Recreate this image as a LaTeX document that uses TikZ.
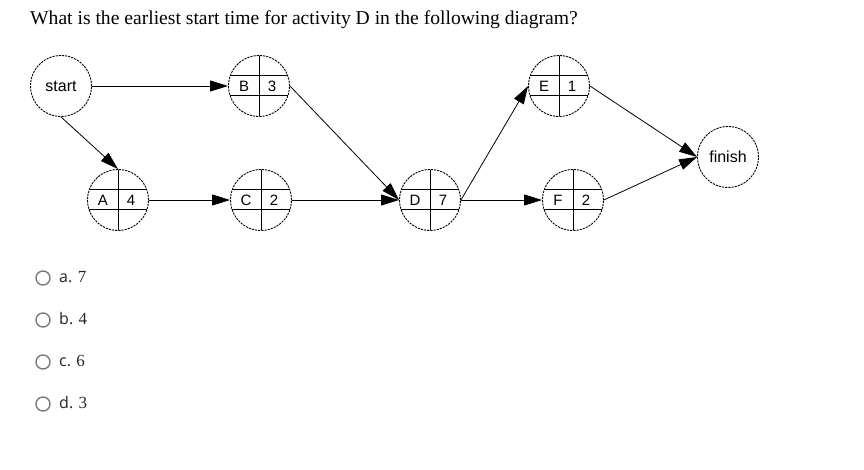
\documentclass[tikz,border=0pt]{standalone}
\usepackage{fontspec}
\setmainfont{Liberation Serif}
\newfontfamily\netfont{Liberation Sans}
\newfontfamily\optfont{Open Sans}
\usetikzlibrary{arrows.meta,calc}
\definecolor{radiogray}{HTML}{7A7A7A}
\tikzset{
    event/.style={circle, draw, line width=.9pt, dash pattern=on 2.2pt off 1pt,
        minimum size=61pt, inner sep=0pt, font=\netfont\fontsize{15}{15}\selectfont},
    activity/.style={event, path picture={
        % cross lines inside the activity circle
        \draw[line width=1pt, solid] (path picture bounding box.north) -- (path picture bounding box.south);
        \draw[line width=1pt, solid] ([yshift=10pt]path picture bounding box.west) -- ([yshift=10pt]path picture bounding box.east);
        \draw[line width=1pt, solid] ([yshift=-10pt]path picture bounding box.west) -- ([yshift=-10pt]path picture bounding box.east);
        }},
    cell/.style={inner sep=0pt, anchor=base, font=\netfont\fontsize{15}{15}\selectfont},
    flow/.style={line width=.8pt, -{Triangle[length=18pt,width=11pt]}},
    radio/.style={circle, draw=radiogray, line width=1.4pt, minimum size=14pt, inner sep=0pt},
}
% activity: name, position, letter, duration
\newcommand{\activity}[4]{%
    \node[activity] (#1) at (#2) {};
    \node[cell] (#1-l) at ($(#1)+(-15,5.5)$) {#3};
    \node[cell] (#1-r) at ($(#1)+(13,5.5)$) {#4};
}

\begin{document}
\begin{tikzpicture}[x=1pt, y=-1pt]
    \useasboundingbox (0,0) rectangle (864,470);
    \node[inner sep=0pt, anchor=base west, font=\fontsize{19.6}{19.6}\selectfont] (question) at (30,25)
        {What is the earliest start time for activity D in the following diagram?};

    \node[event, font=\netfont\fontsize{16}{16}\selectfont] (start) at (61,86) {start};
    \node[event, font=\netfont\fontsize{16}{16}\selectfont] (finish) at (728,157) {finish};
    \activity{A}{118,200}{A}{4}
    \activity{B}{259,86}{B}{3}
    \activity{C}{261,200}{C}{2}
    \activity{D}{430,200}{D}{7}
    \activity{E}{559,86}{E}{1}
    \activity{F}{573,200}{F}{2}

    \draw[flow] (start.east) -- (B.west);
    \draw[flow] (start.south) -- (A.north);
    \draw[flow] (A.east) -- (C.west);
    \draw[flow] (B.east) -- (D.west);
    \draw[flow] (C.east) -- (D.west);
    \draw[flow] (D.east) -- (E.west);
    \draw[flow] (D.east) -- (F.west);
    \draw[flow] (E.east) -- (finish.west);
    \draw[flow] (F.east) -- (finish.west);

    % answer options
    \foreach \opt/\val [count=\i from 0] in {a/7, b/4, c/6, d/3} {
        \node[radio] (r-\opt) at (43,278+42*\i) {};
        \node[inner sep=0pt, anchor=base west, text=black!85, font=\optfont\fontsize{16}{16}\selectfont]
            (l-\opt) at (59,282.5+42*\i) {\opt.};
        \node[inner sep=0pt, anchor=base west, text=black!85, font=\fontsize{17}{17}\selectfont]
            (v-\opt) at ([xshift=5pt]l-\opt.base east) {\val};
    }
\end{tikzpicture}
\end{document}
